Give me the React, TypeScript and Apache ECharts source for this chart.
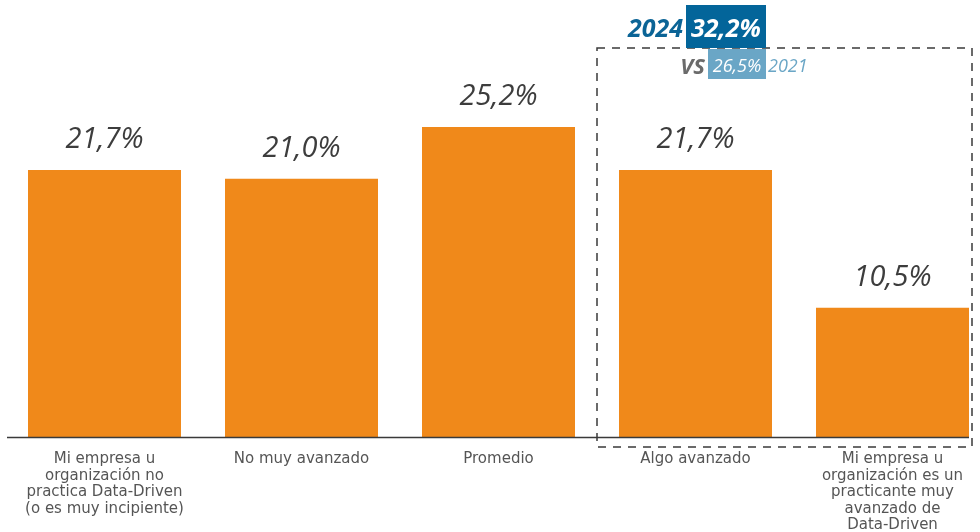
import React, { useEffect, useRef } from "react";
import * as echarts from "echarts";

const categories: string[] = [
  "Mi empresa u\norganización no\npractica Data-Driven\n(o es muy incipiente)",
  "No muy avanzado",
  "Promedio",
  "Algo avanzado",
  "Mi empresa u\norganización es un\npracticante muy\navanzado de\nData-Driven",
];
const values: number[] = [21.7, 21.0, 25.2, 21.7, 10.5];
const highlightYear = "2024";
const highlightValue = "32,2%";
const compareLabel = "VS";
const compareValue = "26,5%";
const compareYear = "2021";

const fmt = (v: number) => v.toFixed(1).replace(".", ",") + "%";

export default function App() {
  const ref = useRef<HTMLDivElement>(null);
  useEffect(() => {
    if (!ref.current) return;
    const chart = echarts.init(ref.current, null, { renderer: "svg" });
    const font = "'Open Sans', Lato, sans-serif";
    chart.setOption({
      animation: false,
      grid: { left: 6, width: 985, top: 68, bottom: 95, containLabel: false, outerBoundsMode: "none" },
      xAxis: {
        type: "category",
        data: categories,
        axisLine: { show: false },
        axisTick: { show: false },
        axisLabel: {
          interval: 0,
          color: "#555555",
          fontFamily: "'DejaVu Sans', sans-serif",
          fontSize: 15,
          lineHeight: 16.5,
          margin: 13,
        },
      },
      yAxis: {
        type: "value",
        min: 0,
        max: 30,
        show: false,
        splitLine: { show: false },
      },
      series: [
        {
          type: "bar",
          data: values,
          barWidth: 153,
          itemStyle: { color: "#F0891A" },
          label: {
            show: true,
            position: "top",
            distance: 19,
            formatter: (p: any) => fmt(p.value),
            color: "#3d3d3d",
            fontFamily: font,
            fontStyle: "italic",
            fontSize: 29,
          },
        },
      ],
      graphic: [
        {
          type: "line",
          shape: { x1: 7, y1: 437.5, x2: 969, y2: 437.5 },
          style: { stroke: "#3a3a3a", lineWidth: 1.5 },
          z: 10,
        },
        {
          type: "rect",
          shape: { x: 597, y: 48, width: 375, height: 399 },
          style: { fill: "none", stroke: "#3a3a3a", lineWidth: 1.5, lineDash: [8, 7] },
          z: 5,
        },
        {
          type: "rect",
          shape: { x: 686, y: 5, width: 80, height: 43 },
          style: { fill: "#03659A" },
          z: 20,
        },
        {
          type: "rect",
          shape: { x: 708, y: 49, width: 58, height: 30 },
          style: { fill: "#6AA6C6" },
          z: 20,
        },
        {
          type: "text",
          x: 683,
          y: 27,
          style: {
            text: highlightYear,
            fill: "#0B6496",
            font: "italic bold 25px " + font,
            align: "right",
            verticalAlign: "middle",
          },
          z: 21,
        },
        {
          type: "text",
          x: 726,
          y: 27,
          style: {
            text: highlightValue,
            fill: "#ffffff",
            font: "italic bold 25px " + font,
            align: "center",
            verticalAlign: "middle",
          },
          z: 21,
        },
        {
          type: "text",
          x: 705,
          y: 65,
          style: {
            text: compareLabel,
            fill: "#6b6b6b",
            font: "italic bold 22px " + font,
            align: "right",
            verticalAlign: "middle",
          },
          z: 21,
        },
        {
          type: "text",
          x: 737,
          y: 65,
          style: {
            text: compareValue,
            fill: "#ffffff",
            font: "italic 18px " + font,
            align: "center",
            verticalAlign: "middle",
          },
          z: 21,
        },
        {
          type: "text",
          x: 768,
          y: 65,
          style: {
            text: compareYear,
            fill: "#6AA6C6",
            font: "italic 18px " + font,
            align: "left",
            verticalAlign: "middle",
          },
          z: 21,
        },
      ],
    });
    return () => chart.dispose();
  }, []);
  return <div ref={ref} style={{ width: 980, height: 532, position: "fixed", left: 0, top: 0 }} />;
}
